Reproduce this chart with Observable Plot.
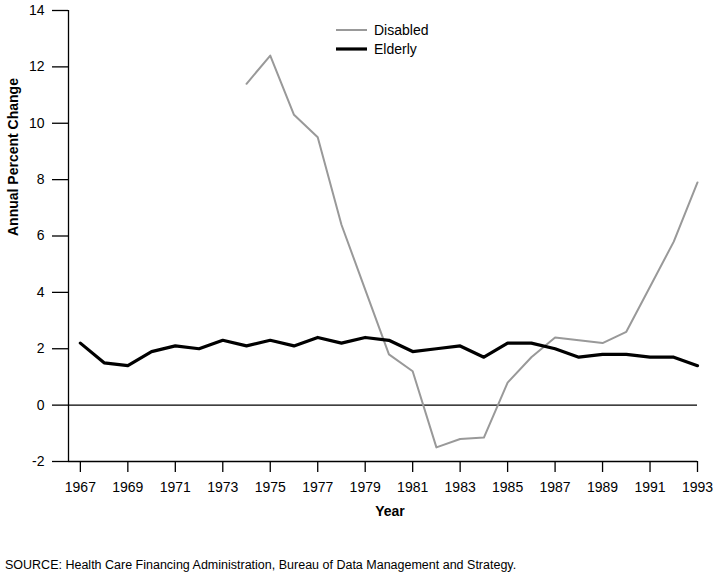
<!DOCTYPE html>
<html>
<head>
<meta charset="utf-8">
<script src="https://cdn.jsdelivr.net/npm/d3@7"></script>
<script src="https://cdn.jsdelivr.net/npm/@observablehq/plot@0.6"></script>
<style>
  body { margin: 0; background: #fff; font-family: "Liberation Sans", Arial, sans-serif; }
  #wrap { position: relative; width: 716px; height: 576px; }
  #legend { position: absolute; left: 336px; top: 20px; font-size: 14px; color: #000; }
  #legend .row { display: flex; align-items: center; height: 19px; }
  #legend svg { margin-right: 7px; }
  #caption { position: absolute; left: 5px; top: 558px; font-size: 12.5px; color: #000; white-space: nowrap; }
</style>
</head>
<body>
<div id="wrap">
  <div id="chart"></div>
  <div id="legend"></div>
  <div id="caption">SOURCE: Health Care Financing Administration, Bureau of Data Management and Strategy.</div>
</div>
<script>
const years = [1967,1968,1969,1970,1971,1972,1973,1974,1975,1976,1977,1978,1979,1980,1981,1982,1983,1984,1985,1986,1987,1988,1989,1990,1991,1992,1993];
const elderly = [2.2,1.5,1.4,1.9,2.1,2.0,2.3,2.1,2.3,2.1,2.4,2.2,2.4,2.3,1.9,2.0,2.1,1.7,2.2,2.2,2.0,1.7,1.8,1.8,1.7,1.7,1.4];
const disabledYears = [1974,1975,1976,1977,1978,1979,1980,1981,1982,1983,1984,1985,1986,1987,1988,1989,1990,1991,1992,1993];
const disabled = [11.4,12.4,10.3,9.5,6.4,4.1,1.8,1.2,-1.5,-1.2,-1.15,0.8,1.7,2.4,2.3,2.2,2.6,4.2,5.8,7.9];
const xTicks = [1967,1969,1971,1973,1975,1977,1979,1981,1983,1985,1987,1989,1991,1993];
const yTicks = [-2,0,2,4,6,8,10,12,14];
const seriesNames = ["Disabled", "Elderly"];
const seriesColors = ["#999999", "#000000"];
const xDomain = [1966.5, 1993];
const yDomain = [-2, 14];

const elderlyData = years.map((y, i) => ({year: y, value: elderly[i]}));
const disabledData = disabledYears.map((y, i) => ({year: y, value: disabled[i]}));

const chart = Plot.plot({
  width: 716,
  height: 535,
  marginTop: 10,
  marginBottom: 74,
  marginLeft: 68,
  marginRight: 19,
  style: {fontFamily: "Liberation Sans, Arial, sans-serif", fontSize: "14px", color: "#000", background: "#fff"},
  x: {domain: xDomain},
  y: {domain: yDomain},
  marks: [
    Plot.axisX({ticks: xTicks, tickFormat: d => String(d), tickSize: 11, tickPadding: 10, label: null, strokeWidth: 1.3}),
    Plot.axisY({ticks: yTicks, tickFormat: d => String(d), tickSize: 16, tickPadding: 8, label: null, strokeWidth: 1.3}),
    Plot.ruleX([xDomain[0]], {stroke: "#000", strokeWidth: 1.3}),
    Plot.ruleY([yDomain[0]], {stroke: "#000", strokeWidth: 1.3}),
    Plot.ruleY([0], {stroke: "#000", strokeWidth: 1.3}),
    Plot.line(disabledData, {x: "year", y: "value", stroke: seriesColors[0], strokeWidth: 2}),
    Plot.line(elderlyData, {x: "year", y: "value", stroke: seriesColors[1], strokeWidth: 3.2}),
    Plot.text(["Annual Percent Change"], {frameAnchor: "left", dx: -55, rotate: -90, fontWeight: "bold", fontSize: 14, fill: "#000"}),
    Plot.text(["Year"], {frameAnchor: "bottom", dy: 54, dx: 7, fontWeight: "bold", fontSize: 14, fill: "#000"})
  ]
});
document.getElementById("chart").appendChild(chart);

const legend = document.getElementById("legend");
seriesNames.forEach((name, i) => {
  const row = document.createElement("div");
  row.className = "row";
  row.innerHTML = `<svg width="31" height="6"><line x1="0" x2="31" y1="3" y2="3" stroke="${seriesColors[i]}" stroke-width="${i === 0 ? 2 : 3.2}"/></svg><span>${name}</span>`;
  legend.appendChild(row);
});
</script>
</body>
</html>
